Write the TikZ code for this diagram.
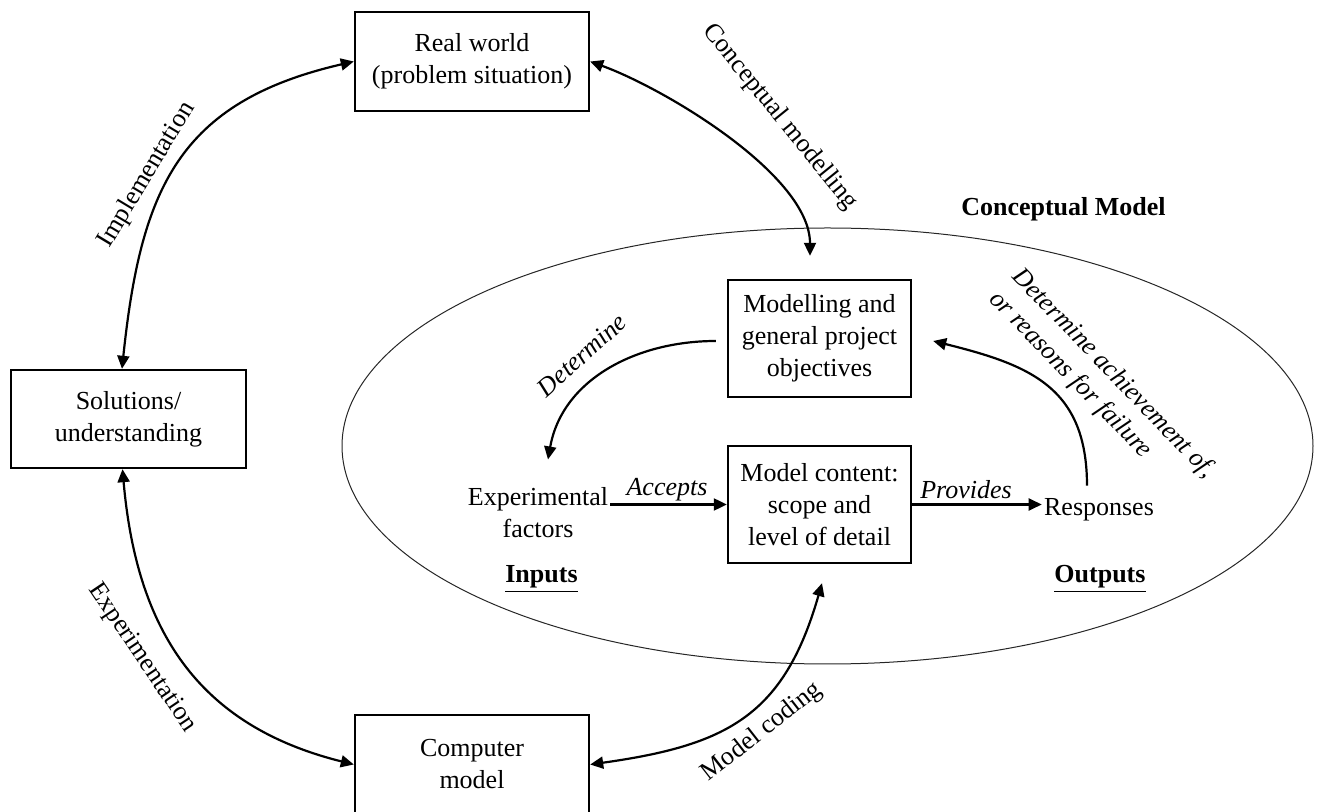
\documentclass[tikz,border=0pt]{standalone}
\usepackage{fontspec}
\setmainfont{Liberation Serif}
\usetikzlibrary{arrows.meta}

\begin{document}
\begin{tikzpicture}[x = 0.5pt, y = 0.5pt, font = \fontsize{13}{16}\selectfont,
  box/.style = {draw, line width = 1.2pt, align = center, inner sep = 2pt},
  word/.style = {align = center, inner sep = 1pt},
  lbl/.style = {inner sep = 1pt, font = \fontsize{13}{16}\selectfont\itshape},
  conn/.style = {line width = 1.1pt},
  >={Triangle[length = 6.5pt, width = 6pt]}]

\useasboundingbox (0, 0) rectangle (1319, -812);

\draw[line width = 0.5pt, black!85] (827.5, -446) ellipse [x radius = 242.75pt, y radius = 109pt];

\node (real) at (472, -61.5) [box, minimum width = 117pt, minimum height = 49.5pt] {Real world\\(problem situation)};
\node (solutions) at (128.5, -419) [box, minimum width = 117.5pt, minimum height = 49pt] {Solutions/\\understanding};
\node (computer) at (472, -764.5) [box, minimum width = 117pt, minimum height = 49.5pt] {Computer\\model};
\node (objectives) at (819.5, -338.5) [box, minimum width = 91.5pt, minimum height = 58.5pt] {Modelling and\\general project\\objectives};
\node (content) at (819.5, -504.5) [box, minimum width = 91.5pt, minimum height = 58.5pt] {Model content:\\scope and\\level of detail};

\node (factors) at (538, -513) [word] {Experimental\\factors};
\node (responses) at (1099, -510) [word] {Responses};
\node (inputs) at (541.5, -579) [word] {\underline{\textbf{Inputs}}};
\node (outputs) at (1100, -579) [word] {\underline{\textbf{Outputs}}};
\node (cmtitle) at (1063.5, -209) [word] {\textbf{Conceptual Model}};

\draw[conn, <->] (real.east) to[out = -20, in = 90, looseness = 0.7] ([xshift = -4.75pt, yshift = 11.5pt]objectives.north);
\draw[conn, <->] (real.west) to[out = 193, in = 84, looseness = 1.2] ([xshift = -3.25pt]solutions.north);
\draw[conn, <->] ([xshift = -3pt]solutions.south) to[out = -85, in = 166, looseness = 1.1] (computer.west);
\draw[conn, <->] (computer.east) to[out = 8, in = -106, looseness = 1.2] ([xshift = 1.25pt, yshift = -9.5pt]content.south);

\draw[conn, ->] ([xshift = -5.5pt, yshift = -1.25pt]objectives.west) to[out = 180, in = 80] ([xshift = 5pt, yshift = 13pt]factors.north);
\draw[conn, ->] (factors.east |- content.west) -- (content.west);
\draw[conn, ->] (content.east) -- (content.east -| responses.west);
\draw[conn, ->] ([xshift = -6pt, yshift = 5.3pt]responses.north) to[out = 90, in = -14, looseness = 1.2] ([xshift = 10.5pt, yshift = -1.25pt]objectives.east);

\node (implabel) at (147, -175) [word, rotate = 59] {Implementation};
\node (cmlabel) at (780, -117) [word, rotate = -51] {Conceptual modelling};
\node (explabel) at (142, -658) [word, rotate = -56] {Experimentation};
\node (codelabel) at (762, -732) [word, rotate = 38] {Model coding};

\node (detlabel) at (582, -355) [lbl, rotate = 42] {Determine};
\node (acclabel) at (667, -490) [lbl] {Accepts};
\node (provlabel) at (966, -490) [lbl] {Provides};
\node (achlabel) at (1102, -385) [lbl, rotate = -46, align = left] {Determine achievement of,\\or reasons for failure};

\end{tikzpicture}
\end{document}
